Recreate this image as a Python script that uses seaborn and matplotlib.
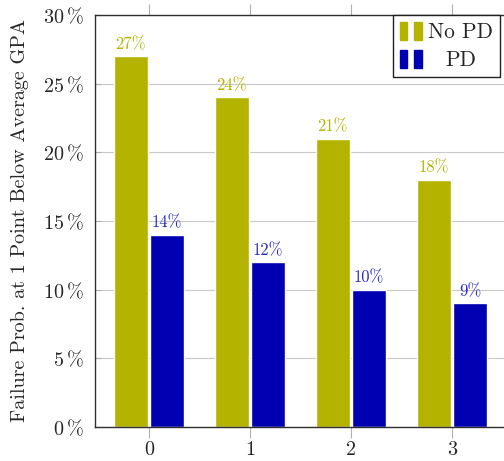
import matplotlib
matplotlib.use("Agg")
import matplotlib.pyplot as plt
import seaborn as sns
import pandas as pd
from matplotlib.patches import Rectangle
from matplotlib.legend_handler import HandlerTuple

# Failure probability (%) by number of points below average GPA
points_below = [0, 1, 2, 3]
no_pd = [27, 24, 21, 18]
pd_vals = [14, 12, 10, 9]
groups = ["No PD", "PD"]
y_ticks = [0, 5, 10, 15, 20, 25, 30]

OLIVE = "#b3b300"
BLUE = "#0000b3"
BLUE_TXT = "#2a2ac4"

df = pd.DataFrame({
    "points": points_below * 2,
    "prob": no_pd + pd_vals,
    "group": [groups[0]] * len(no_pd) + [groups[1]] * len(pd_vals),
})

sns.set_theme(style="white")
plt.rcParams["font.family"] = ["cmr10"]
plt.rcParams["mathtext.fontset"] = "cm"
plt.rcParams["axes.formatter.use_mathtext"] = True
plt.rcParams["axes.unicode_minus"] = False

fig = plt.figure(figsize=(5.04, 4.61), dpi=100)
W, H = 504, 461
ax = fig.add_axes([95 / W, 1 - 427 / H, 411 / W, 412 / H])

sns.barplot(data=df, x="points", y="prob", hue="group", hue_order=groups,
            palette=[OLIVE, BLUE], width=0.72, gap=0.055, saturation=1,
            legend=False, ax=ax, zorder=2)

ax.set_xlim(-0.535, 3.535)
ax.set_ylim(0, 30)
ax.set_yticks(y_ticks)
ax.set_yticklabels([rf"${t}\,\%$" for t in y_ticks], fontsize=14.5)
ax.set_xticks(range(len(points_below)))
ax.set_xticklabels([str(p) for p in points_below], fontsize=14.5)
ax.set_xlabel("")
ax.set_ylabel("Failure Prob. at 1 Point Below Average GPA", fontsize=14.5,
              labelpad=10)

ax.grid(axis="y", color="#c8c8c8", linewidth=0.8, zorder=0)
ax.set_axisbelow(True)
for side in ["left", "top", "bottom", "right"]:
    ax.spines[side].set_color("#303030")
    ax.spines[side].set_linewidth(1.0)
ax.tick_params(axis="x", which="both", direction="out", length=8, width=0.8,
               color="#b0b0b0", top=True, bottom=True, pad=2)
ax.tick_params(axis="y", which="both", direction="in", length=4, width=0.8,
               color="#b0b0b0", left=True, pad=8)

label_colors = [OLIVE, BLUE_TXT]
for cont, vals, col in zip(ax.containers, [no_pd, pd_vals], label_colors):
    ax.bar_label(cont, labels=[f"{v}%" for v in vals], padding=3,
                 color=col, fontsize=12)

handles = [
    (Rectangle((0, 0), 1, 1, color=OLIVE), Rectangle((0, 0), 1, 1, color=OLIVE)),
    (Rectangle((0, 0), 1, 1, color=BLUE), Rectangle((0, 0), 1, 1, color=BLUE)),
]
leg = fig.legend(handles, groups, loc="upper left",
                 bbox_to_anchor=(393 / W, 1 - 15 / H),
                 bbox_transform=fig.transFigure, borderaxespad=0,
                 handler_map={tuple: HandlerTuple(ndivide=2, pad=0.33)},
                 handlelength=1.0, handleheight=0.9, handletextpad=0.3,
                 borderpad=0.33, labelspacing=0.35, fontsize=15.5,
                 fancybox=False, framealpha=1, edgecolor="#202020")
leg.get_frame().set_linewidth(1.0)
# center the shorter entry within the text column
t0, t1 = leg.get_texts()
fig.canvas.draw()
r = fig.canvas.get_renderer()
w0 = t0.get_window_extent(r).width
w1 = t1.get_window_extent(r).width
t1.set_position(((w0 - w1) / 2, 0))

fig.savefig("out.png", dpi=100)
